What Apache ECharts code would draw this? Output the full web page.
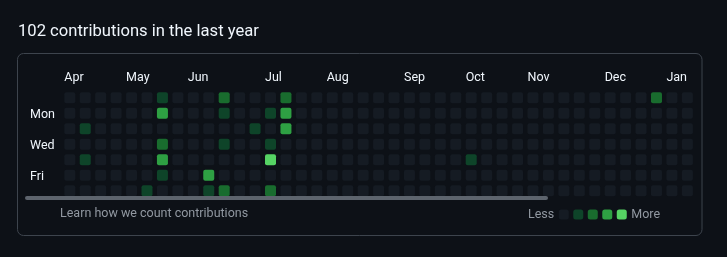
<!DOCTYPE html>
<html>
<head>
<meta charset="utf-8">
<script src="https://cdn.jsdelivr.net/npm/echarts@6/dist/echarts.min.js"></script>
<style>
  html, body { margin: 0; padding: 0; background: #0d1117; }
  #chart { width: 727px; height: 257px; }
</style>
</head>
<body>
<div id="chart"></div>
<script>
const weekCount = 41;
const days = ['Sun', 'Mon', 'Tue', 'Wed', 'Thu', 'Fri', 'Sat'];
const dayLabels = ['', 'Mon', '', 'Wed', '', 'Fri', ''];
const monthStarts = [0, 4, 8, 13, 17, 22, 26, 30, 35, 39];
const monthNames = ['Apr', 'May', 'Jun', 'Jul', 'Aug', 'Sep', 'Oct', 'Nov', 'Dec', 'Jan'];
const levelColors = ['#151b23', '#0e4429', '#196c2e', '#2ea043', '#56d364'];

// [week, day, level] -- days without contributions are level 0
const activeDays = [
  [1, 2, 1], [1, 4, 1],
  [5, 6, 1],
  [6, 0, 1], [6, 1, 3], [6, 3, 2], [6, 4, 3], [6, 5, 1],
  [9, 5, 3], [9, 6, 1],
  [10, 0, 2], [10, 1, 1], [10, 3, 1], [10, 6, 2],
  [12, 2, 1],
  [13, 1, 1], [13, 3, 1], [13, 4, 4], [13, 6, 2],
  [14, 0, 2], [14, 1, 3], [14, 2, 3],
  [26, 4, 1],
  [38, 0, 2]
];

const font = 'Roboto, "Noto Sans", sans-serif';

let levelOf = {};
activeDays.forEach(([w, d, l]) => { levelOf[w + '_' + d] = l; });
let cells = [];
for (let w = 0; w < weekCount; w++) {
  for (let d = 0; d < days.length; d++) {
    cells.push([w, d, levelOf[w + '_' + d] || 0]);
  }
}

let chart = echarts.init(document.getElementById('chart'));
chart.setOption({
  backgroundColor: '#0d1117',
  animation: false,
  title: {
    text: '102 contributions in the last year',
    left: 18,
    top: 23,
    padding: 0,
    textStyle: { color: '#f0f6fc', fontSize: 16.6, fontWeight: 'normal', fontFamily: font }
  },
  grid: { left: 64.3, top: 90, width: 633, height: 108.5 },
  xAxis: {
    type: 'value',
    position: 'top',
    min: 0,
    max: weekCount,
    interval: 1,
    axisLine: { show: false },
    axisTick: { show: false },
    splitLine: { show: false },
    axisLabel: {
      align: 'left',
      margin: 6,
      color: '#f0f6fc',
      fontSize: 12.5,
      fontFamily: font,
      showMaxLabel: false,
      formatter: v => {
        let i = monthStarts.indexOf(v);
        return i >= 0 ? monthNames[i] : '';
      }
    }
  },
  yAxis: {
    type: 'category',
    data: days,
    inverse: true,
    axisLine: { show: false },
    axisTick: { show: false },
    splitLine: { show: false },
    axisLabel: {
      interval: 0,
      align: 'left',
      margin: 34.3,
      color: '#f0f6fc',
      fontSize: 12.5,
      fontFamily: font,
      formatter: (v, i) => dayLabels[i] ? '{d|' + dayLabels[i] + '}' : '',
      rich: {
        d: { color: '#f0f6fc', fontSize: 12.5, fontFamily: font, padding: [4, 0, 0, 0] }
      }
    }
  },
  visualMap: {
    type: 'piecewise',
    seriesIndex: 0,
    dimension: 2,
    orient: 'horizontal',
    left: 528,
    top: 208,
    padding: 0,
    itemWidth: 10,
    itemHeight: 10,
    itemGap: 4.5,
    itemSymbol: 'roundRect',
    text: ['More', 'Less'],
    textGap: 5,
    showLabel: false,
    selectedMode: false,
    textStyle: { color: '#9198a1', fontSize: 12.5, fontFamily: font },
    pieces: levelColors.map((c, i) => ({ value: i, color: c }))
  },
  graphic: [
    {
      type: 'rect',
      shape: { x: 17.5, y: 53.5, width: 684.5, height: 182, r: 6 },
      style: { fill: 'none', stroke: '#3d444d', lineWidth: 1 },
      silent: true
    },
    {
      type: 'rect',
      z: 100,
      shape: { x: 25, y: 196, width: 523, height: 4, r: 2 },
      style: { fill: '#5d646d' },
      silent: true
    },
    {
      type: 'text',
      x: 60,
      y: 213.5,
      style: {
        text: 'Learn how we count contributions',
        fill: '#9198a1',
        font: '12.5px ' + font,
        verticalAlign: 'middle'
      }
    }
  ],
  series: [{
    type: 'custom',
    data: cells,
    encode: { x: 0, y: 1 },
    renderItem: (params, api) => {
      let p = api.coord([api.value(0), api.value(1)]);
      return {
        type: 'rect',
        shape: { x: p[0], y: p[1] - 5.5, width: 11, height: 11, r: 2 },
        style: { fill: api.visual('color') }
      };
    }
  }]
});
</script>
</body>
</html>
